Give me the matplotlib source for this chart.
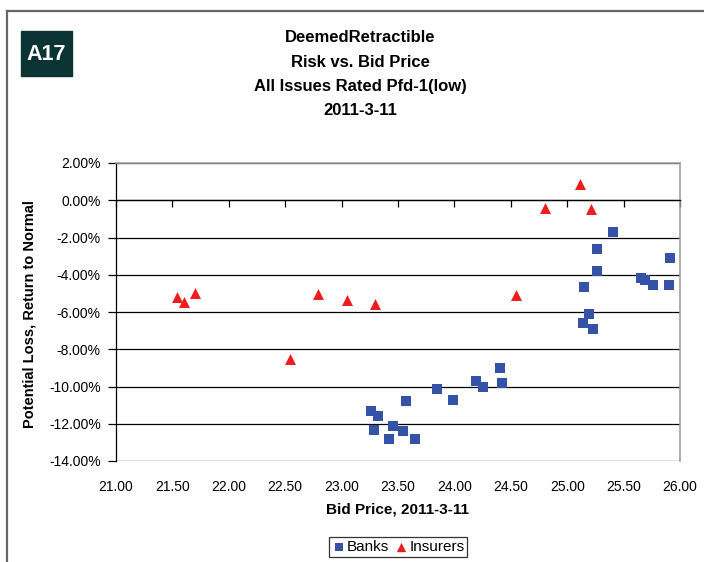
import matplotlib.pyplot as plt
from matplotlib.lines import Line2D
from matplotlib.patches import Rectangle
from matplotlib.ticker import FuncFormatter, MultipleLocator

plt.rcParams['font.family'] = ['Liberation Sans', 'DejaVu Sans']

# Banks : prix et perte potentielle (%)
banks_price = [23.26, 23.32, 23.29, 23.46, 23.54, 23.42, 23.65, 23.57, 23.85,
               23.99, 24.19, 24.25, 24.40, 24.42, 25.15, 25.14, 25.19, 25.23,
               25.26, 25.26, 25.41, 25.65, 25.69, 25.76, 25.90, 25.91]
banks_loss = [-11.33, -11.58, -12.31, -12.13, -12.40, -12.81, -12.81, -10.76,
              -10.15, -10.70, -9.70, -10.02, -8.98, -9.81, -4.65, -6.59, -6.12,
              -6.93, -3.79, -2.61, -1.72, -4.17, -4.26, -4.53, -4.53, -3.08]

# Insurers
ins_price = [21.54, 21.60, 21.70, 22.54, 22.79, 23.05, 23.30, 24.55, 24.80,
             25.11, 25.21]
ins_loss = [-5.19, -5.46, -4.98, -8.50, -5.05, -5.33, -5.55, -5.10, -0.39,
            0.89, -0.45]

x_ticks = [21.0, 21.5, 22.0, 22.5, 23.0, 23.5, 24.0, 24.5, 25.0, 25.5, 26.0]

title_lines = ["DeemedRetractible", "Risk vs. Bid Price",
               "All Issues Rated Pfd-1(low)", "2011-3-11"]

W, H = 704, 562
fig = plt.figure(figsize=(W / 100, H / 100), dpi=100)

# cadre gris autour de la figure
fig.add_artist(Line2D([7 / W, 1], [1 - 11 / H, 1 - 11 / H], color='#666666', lw=1.6))
fig.add_artist(Line2D([7 / W, 7 / W], [0, 1 - 11 / H], color='#666666', lw=1.6))

# étiquette A17
fig.add_artist(Rectangle((21 / W, 1 - 76 / H), 51 / W, 45 / H,
                         transform=fig.transFigure, color='#0c3434'))
fig.text(46.5 / W, 1 - 54 / H, "A17", color='white', fontsize=15.5,
         fontweight='bold', ha='center', va='center')

for k, line in enumerate(title_lines):
    fig.text(360 / W, 1 - (38 + 24.2 * k) / H, line, fontsize=12,
             fontweight='bold', ha='center', va='center')

ax = fig.add_axes([116 / W, 1 - 461 / H, 564 / W, 298 / H])
ax.set_xlim(21, 26)
ax.set_ylim(-14, 2)

ax.scatter(banks_price, banks_loss, marker='s', s=44, color='#3553a6',
           linewidths=0, zorder=3, label='Banks')
ax.scatter(ins_price, ins_loss, marker='^', s=62, color='#ee1c1c',
           linewidths=0, zorder=3, label='Insurers')

# quadrillage horizontal noir
ax.yaxis.set_major_locator(MultipleLocator(2))
ax.yaxis.set_major_formatter(FuncFormatter(lambda v, p: '%.2f%%' % v))
ax.grid(axis='y', color='black', lw=0.9)
ax.set_axisbelow(True)

# axe des x qui croise à 0 %, étiquettes en bas
ax.set_xticks(x_ticks)
ax.spines['bottom'].set_position(('data', 0))
ax.spines['bottom'].set_linewidth(0.9)
ax.tick_params(axis='x', direction='out', length=5, width=0.9, labelbottom=False)
sec = ax.secondary_xaxis('bottom')
sec.set_xticks(x_ticks)
sec.xaxis.set_major_formatter(FuncFormatter(lambda v, p: '%.2f' % v))
sec.tick_params(length=0, pad=14, labelsize=10)
sec.spines['bottom'].set_visible(False)

ax.tick_params(axis='y', direction='out', length=6, width=0.9, labelsize=10, pad=5)
ax.spines['left'].set_linewidth(0.9)
for side in ('top', 'right'):
    ax.spines[side].set_color('#a0a0a0')
    ax.spines[side].set_linewidth(1.2)

fig.text(30 / W, 1 - 314 / H, "Potential Loss, Return to Normal", rotation=90,
         fontsize=10.5, fontweight='bold', ha='center', va='center')
fig.text(397 / W, 1 - 510 / H, "Bid Price, 2011-3-11", fontsize=11,
         fontweight='bold', ha='center', va='center')

leg = fig.legend(loc='upper center', bbox_to_anchor=(398 / W, 1 - 537 / H),
                 ncol=2, fontsize=11, frameon=True, fancybox=False,
                 edgecolor='black', handletextpad=0.05, columnspacing=0.4,
                 handlelength=0.9, borderpad=0.2, borderaxespad=0,
                 markerscale=0.85)
leg.get_frame().set_linewidth(0.9)

fig.savefig('out.png', dpi=100)
